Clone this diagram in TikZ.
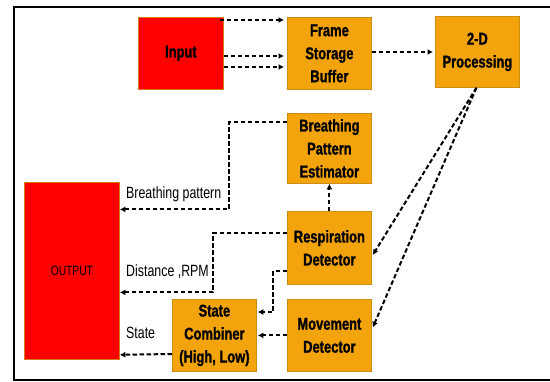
\documentclass[tikz,border=0pt]{standalone}
\usepackage{fontspec}
\setmainfont{Liberation Sans}[FakeStretch=0.76,BoldFeatures={FakeBold=1.2}]
\usetikzlibrary{arrows.meta}
\definecolor{boxorange}{RGB}{243,164,12}
\definecolor{boxedge}{RGB}{205,140,20}
\definecolor{redfill}{RGB}{255,0,0}
\definecolor{rededge}{RGB}{215,120,20}
\begin{document}
\begin{tikzpicture}[x=1pt,y=-1pt,
  blockbox/.style={draw=boxedge,line width=0.8pt,fill=boxorange,anchor=north west,
    inner sep=0pt,align=center,font=\fontsize{17}{23}\selectfont\bfseries},
  redbox/.style={draw=rededge,line width=0.8pt,fill=redfill,anchor=north west,inner sep=0pt,align=center},
  arr/.style={line width=2pt,dash pattern=on 4.5pt off 2.5pt,-{Latex[length=5.5pt,width=6pt]}},
  lbl/.style={anchor=west,inner sep=0pt,font=\fontsize{16.3}{20}\selectfont}]
\useasboundingbox (0,0) rectangle (550,381);
\fill[white] (0,0) rectangle (550,381);
\begin{scope}
\clip (0,0) rectangle (550,381);
\draw[line width=2pt] (580,6.5) -- (13.5,6.5) -- (13.5,379.5) -- (580,379.5);
\end{scope}
% nodes
\node[redbox,minimum width=85pt,minimum height=72pt,font=\fontsize{17}{23}\selectfont\bfseries] (input) at (138,17) {Input};
\node[blockbox,minimum width=84pt,minimum height=72pt] (fsb) at (287,17) {Frame\\Storage\\Buffer};
\node[blockbox,minimum width=84pt,minimum height=71pt] (proc) at (435,16) {2-D\\Processing};
\node[blockbox,minimum width=84pt,minimum height=70pt] (bpe) at (287,113) {Breathing\\Pattern\\Estimator};
\node[blockbox,minimum width=84pt,minimum height=73pt] (rd) at (287,211) {Respiration\\Detector};
\node[blockbox,minimum width=84pt,minimum height=72pt] (md) at (287,299) {Movement\\Detector};
\node[blockbox,minimum width=84pt,minimum height=72pt] (sc) at (172,299) {State\\Combiner\\(High, Low)};
\node[redbox,minimum width=95pt,minimum height=177pt,font=\fontsize{13.5}{16}\selectfont] (out) at (24,182) {OUTPUT};
% labels
\node[lbl] (lbp) at (126,194) {Breathing pattern};
\node[lbl] (ldr) at (126,272) {Distance ,RPM};
\node[lbl] (lst) at (126,333) {State};
% connectors
\draw[arr] ([xshift=-4pt,yshift=-3pt]input.north east) -- ([xshift=-3pt,yshift=-3pt]fsb.north west);
\draw[arr] ([yshift=-39pt]input.north east) -- ([xshift=-3pt,yshift=-39pt]fsb.north west);
\draw[arr] ([yshift=-50pt]input.north east) -- ([xshift=-3pt,yshift=-50pt]fsb.north west);
\draw[arr] ([yshift=-35pt]fsb.north east) -- ([xshift=-2pt,yshift=-36pt]proc.north west);
\draw[arr] ([xshift=-1pt]proc.south) -- ([xshift=1pt,yshift=-7pt]rd.east);
\draw[arr] ([xshift=-1pt]proc.south) -- ([xshift=1pt,yshift=8pt]md.east);
\draw[arr] (rd.north) -- (bpe.south);
\draw[arr] ([yshift=-9pt]bpe.north west) -- ++(-58,0) |- ([yshift=61.5pt]out.east);
\draw[arr] ([yshift=-22pt]rd.north west) -- ++(-74,0) |- ([yshift=-21.5pt]out.east);
\draw[arr] ([yshift=-60pt]rd.north west) -- ++(-14,0) |- ([xshift=1pt,yshift=-13pt]sc.north east);
\draw[arr] (md.west) -- ([xshift=1pt]sc.east);
\draw[arr] ([yshift=-55pt]sc.north west) -- ([yshift=5pt]out.south east);
\end{tikzpicture}
\end{document}
